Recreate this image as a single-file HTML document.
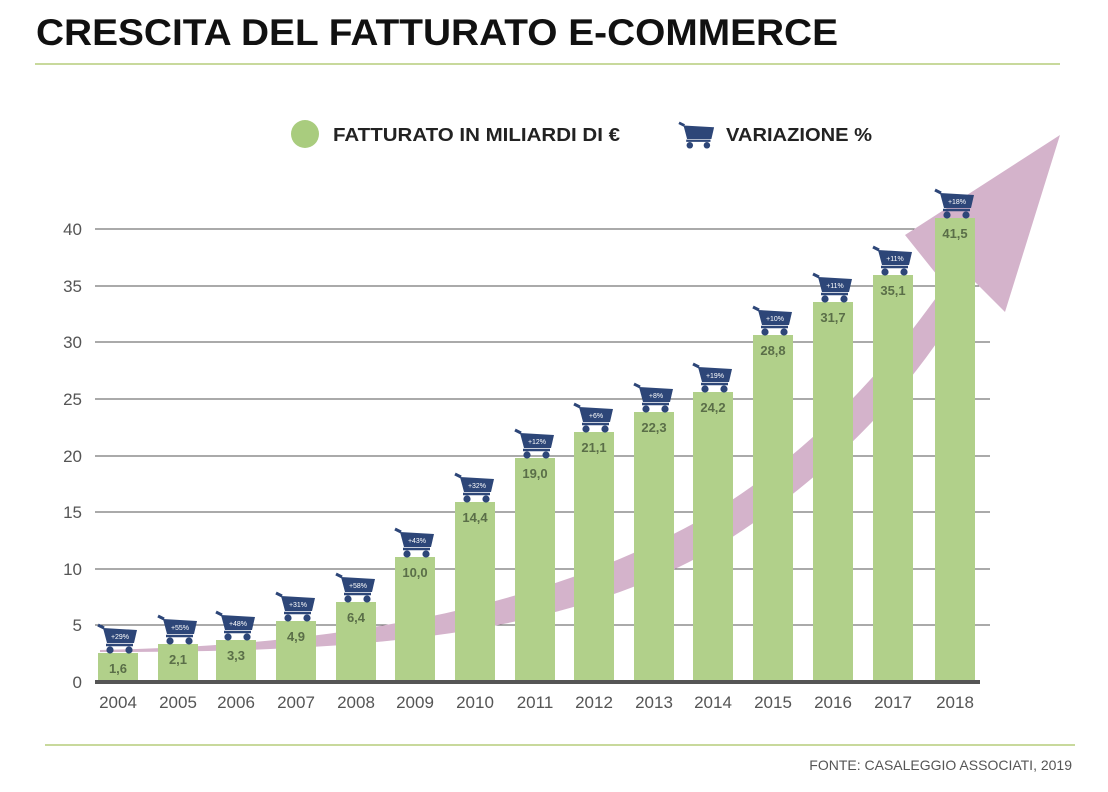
<!DOCTYPE html>
<html><head><meta charset="utf-8"><style>
body{margin:0;background:#fff;}
svg{display:block;font-family:"Liberation Sans",sans-serif;}
</style></head><body>
<svg width="1108" height="792" viewBox="0 0 1108 792">
<defs>
<g id="cart">
<path d="M-20,-28 L-14,-25" stroke="#2d4678" stroke-width="3" fill="none"/>
<path d="M-15,-25 L19,-23 L16,-10 L-11,-10 Z" fill="#2d4678"/>
<path d="M-12,-8 L15,-8" stroke="#2d4678" stroke-width="2.5"/>
<circle cx="-8" cy="-3" r="3.6" fill="#2d4678"/>
<circle cx="11" cy="-3" r="3.6" fill="#2d4678"/>
</g>
</defs>
<text x="36" y="45" font-size="37" font-weight="bold" fill="#111" textLength="802" lengthAdjust="spacingAndGlyphs">CRESCITA DEL FATTURATO E-COMMERCE</text>
<line x1="35" y1="64" x2="1060" y2="64" stroke="#c8d99c" stroke-width="2"/>
<circle cx="305" cy="134" r="14" fill="#a9cc7e"/>
<text x="333" y="141" font-size="18" font-weight="bold" fill="#222" textLength="287" lengthAdjust="spacingAndGlyphs">FATTURATO IN MILIARDI DI €</text>
<g transform="translate(697,148) scale(0.9)"><use href="#cart"/></g>
<text x="726" y="141" font-size="18" font-weight="bold" fill="#222" textLength="146" lengthAdjust="spacingAndGlyphs">VARIAZIONE %</text>
<g stroke="#555" stroke-width="1">
<line x1="95" y1="625" x2="990" y2="625"/><line x1="95" y1="569" x2="990" y2="569"/>
<line x1="95" y1="512" x2="990" y2="512"/><line x1="95" y1="456" x2="990" y2="456"/>
<line x1="95" y1="399" x2="990" y2="399"/><line x1="95" y1="342" x2="990" y2="342"/>
<line x1="95" y1="286" x2="990" y2="286"/><line x1="95" y1="229" x2="990" y2="229"/>
</g>
<g font-size="17" fill="#555" text-anchor="end">
<text x="82" y="688">0</text><text x="82" y="631">5</text><text x="82" y="575">10</text>
<text x="82" y="518">15</text><text x="82" y="462">20</text><text x="82" y="405">25</text>
<text x="82" y="348">30</text><text x="82" y="292">35</text><text x="82" y="235">40</text>
</g>
<path d="M100,650 C300,646 520,620 700,520 C820,450 900,350 945,285 L905,235 L1060,135 L1005,312 L975,282 C920,380 840,470 720,545 C560,640 350,652 100,652 Z" fill="#d4b3cb"/>
<g fill="#b1d08a">
<rect x="98" y="653" width="40" height="29"/>
<rect x="158" y="644" width="40" height="38"/>
<rect x="216" y="640" width="40" height="42"/>
<rect x="276" y="621" width="40" height="61"/>
<rect x="336" y="602" width="40" height="80"/>
<rect x="395" y="557" width="40" height="125"/>
<rect x="455" y="502" width="40" height="180"/>
<rect x="515" y="458" width="40" height="224"/>
<rect x="574" y="432" width="40" height="250"/>
<rect x="634" y="412" width="40" height="270"/>
<rect x="693" y="392" width="40" height="290"/>
<rect x="753" y="335" width="40" height="347"/>
<rect x="813" y="302" width="40" height="380"/>
<rect x="873" y="275" width="40" height="407"/>
<rect x="935" y="218" width="40" height="464"/>
</g>
<line x1="95" y1="682" x2="980" y2="682" stroke="#555" stroke-width="4"/>
<g font-size="13" font-weight="bold" fill="#5a6e48" text-anchor="middle">
<text x="118" y="673">1,6</text><text x="178" y="664">2,1</text><text x="236" y="660">3,3</text>
<text x="296" y="641">4,9</text><text x="356" y="622">6,4</text><text x="415" y="577">10,0</text>
<text x="475" y="522">14,4</text><text x="535" y="478">19,0</text><text x="594" y="452">21,1</text>
<text x="654" y="432">22,3</text><text x="713" y="412">24,2</text><text x="773" y="355">28,8</text>
<text x="833" y="322">31,7</text><text x="893" y="295">35,1</text><text x="955" y="238">41,5</text>
</g>
<g>
<use href="#cart" transform="translate(118,653)"/><use href="#cart" transform="translate(178,644)"/>
<use href="#cart" transform="translate(236,640)"/><use href="#cart" transform="translate(296,621)"/>
<use href="#cart" transform="translate(356,602)"/><use href="#cart" transform="translate(415,557)"/>
<use href="#cart" transform="translate(475,502)"/><use href="#cart" transform="translate(535,458)"/>
<use href="#cart" transform="translate(594,432)"/><use href="#cart" transform="translate(654,412)"/>
<use href="#cart" transform="translate(713,392)"/><use href="#cart" transform="translate(773,335)"/>
<use href="#cart" transform="translate(833,302)"/><use href="#cart" transform="translate(893,275)"/>
<use href="#cart" transform="translate(955,218)"/>
</g>
<g font-size="7" fill="#fff" text-anchor="middle">
<text x="120" y="639">+29%</text><text x="180" y="630">+55%</text><text x="238" y="626">+48%</text>
<text x="298" y="607">+31%</text><text x="358" y="588">+58%</text><text x="417" y="543">+43%</text>
<text x="477" y="488">+32%</text><text x="537" y="444">+12%</text><text x="596" y="418">+6%</text>
<text x="656" y="398">+8%</text><text x="715" y="378">+19%</text><text x="775" y="321">+10%</text>
<text x="835" y="288">+11%</text><text x="895" y="261">+11%</text><text x="957" y="204">+18%</text>
</g>
<g font-size="17" fill="#555" text-anchor="middle">
<text x="118" y="708">2004</text><text x="178" y="708">2005</text><text x="236" y="708">2006</text>
<text x="296" y="708">2007</text><text x="356" y="708">2008</text><text x="415" y="708">2009</text>
<text x="475" y="708">2010</text><text x="535" y="708">2011</text><text x="594" y="708">2012</text>
<text x="654" y="708">2013</text><text x="713" y="708">2014</text><text x="773" y="708">2015</text>
<text x="833" y="708">2016</text><text x="893" y="708">2017</text><text x="955" y="708">2018</text>
</g>
<line x1="45" y1="745" x2="1075" y2="745" stroke="#c8d99c" stroke-width="2"/>
<text x="1072" y="770" font-size="14" fill="#555" text-anchor="end">FONTE: CASALEGGIO ASSOCIATI, 2019</text>
</svg>
</body></html>
